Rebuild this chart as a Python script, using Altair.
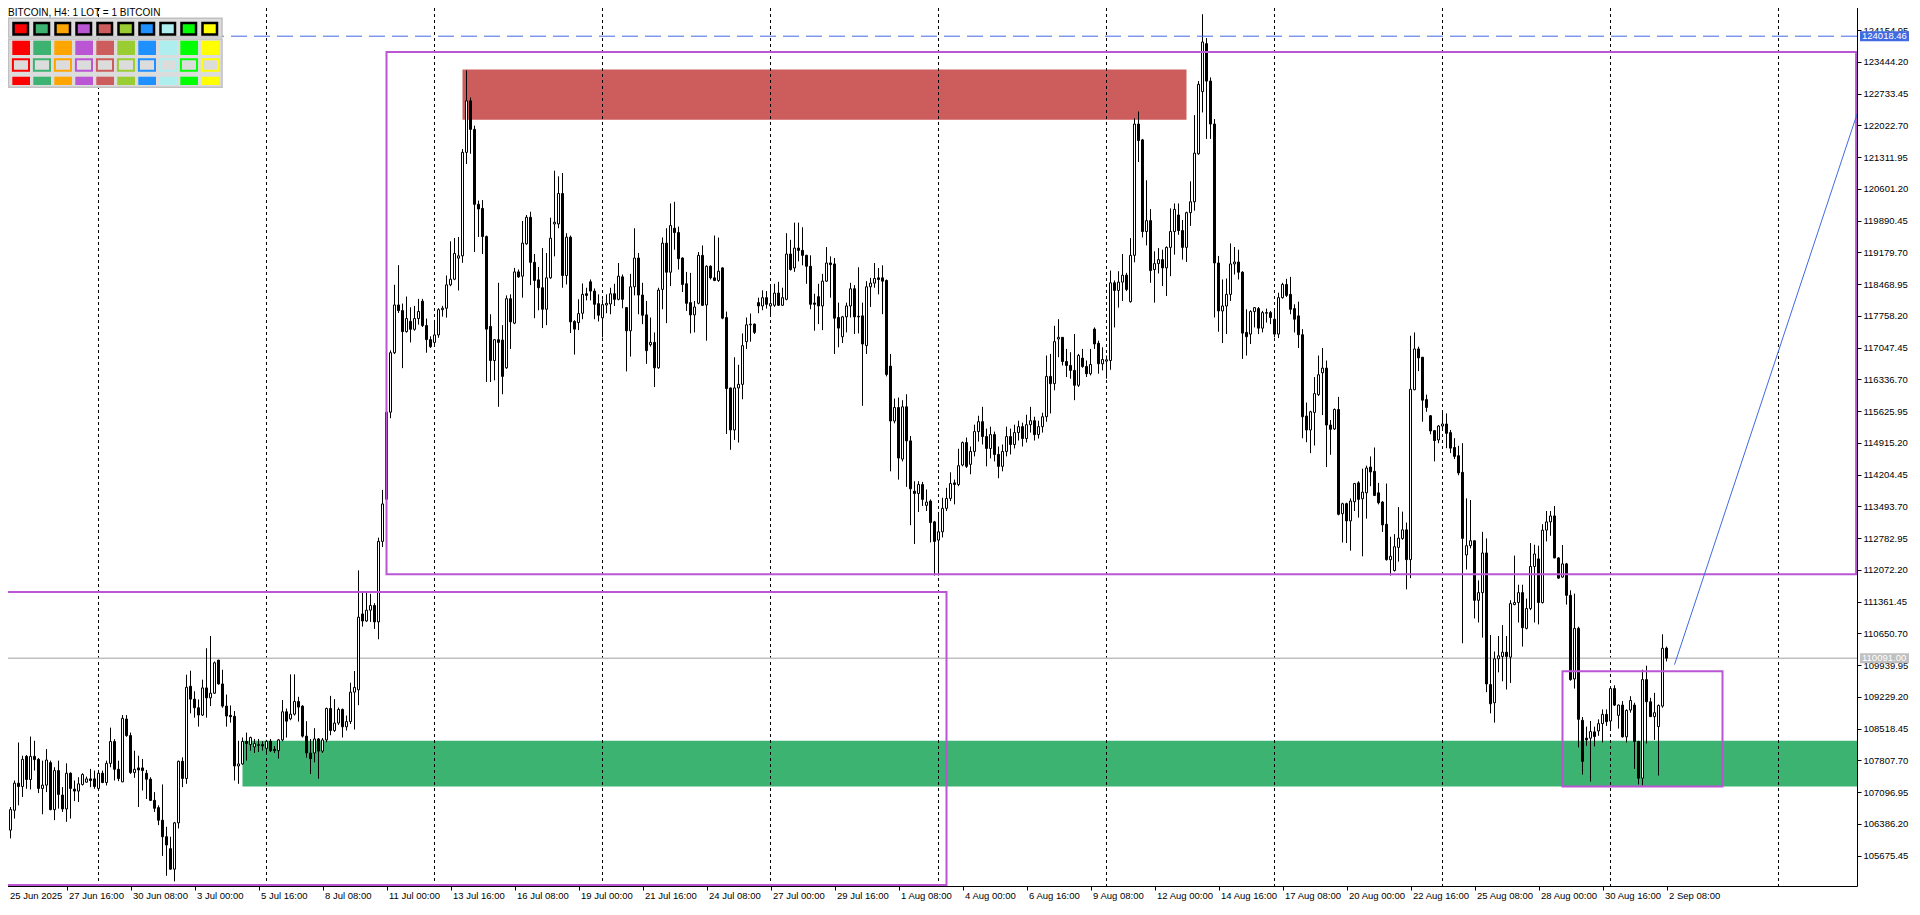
import altair as alt
import pandas as pd

TITLE = "BITCOIN, H4:  1 LOT = 1 BITCOIN"

OPEN = [
106431,106453,106246,106690,107297,107223,107897,107379,107897,107830,
107179,107253,107756,106705,107579,107031,106720,107519,107164,107120,
107268,107319,107393,107393,107179,107519,107312,107741,108230,107608,
107327,108733,108363,107534,107638,107638,107519,107386,106912,106749,
106468,106098,105831,105372,106409,107786,107401,109466,109178,108985,
108822,109429,109207,109311,110051,109518,109022,108815,108793,107682,
107727,108230,108161,108109,108140,108161,108077,108235,108056,108025,
108266,108895,108738,108842,109125,109021,108350,107973,107973,108287,
108015,108266,108968,108476,108643,108947,108559,108675,109335,109387,
111085,110928,111169,111274,110907,112710,113653,115602,116933,118002,
117876,117405,117635,117457,117698,118086,117541,117226,117164,117331,
117897,117929,118453,118578,119050,119102,121418,122571,121932,120255,
120163,119534,117521,116758,117224,117217,116595,118142,117595,118742,
118646,119371,119964,118957,118564,118387,117906,118609,119816,119816,
120497,118661,119519,117632,117609,117817,118253,118520,118313,118031,
117713,118002,118024,118253,118128,118631,117943,117424,118409,119053,
118224,117780,117113,117165,116595,118350,119386,118735,119719,119623,
119053,118476,118054,117780,118039,119112,118002,118868,118609,118550,
118831,117720,116144,115204,116144,116225,117180,117558,117573,118054,
117980,118165,117980,117995,118269,117995,118128,119142,118831,119275,
119224,119113,118868,118046,118187,117980,118535,118942,118920,117721,
117291,117736,117980,118365,117750,117758,117092,118409,118491,118609,
118609,118550,116632,115404,115707,114552,115722,114959,113834,113782,
113982,113516,113612,113146,112739,112924,113449,113671,114019,113982,
114419,114922,114434,114723,115167,115389,115056,114789,115100,114656,
114389,114723,115056,114878,115145,115278,115012,115322,115411,115100,
115278,115500,116403,116241,117240,117277,116737,116648,116537,116204,
116811,116625,116463,117462,117144,116685,116744,116759,118498,118328,
118513,118669,118076,119113,122052,121697,119646,119890,118795,118928,
119017,118832,119291,119646,120016,119668,119291,120068,120312,121386,
122777,123851,123014,122052,118942,117868,117979,118239,118920,118964,
118735,117387,117350,117854,117920,117483,117817,117831,117683,117350,
118165,118461,118239,117920,117757,117335,115514,115203,115596,115995,
116484,116588,115314,115226,115662,113330,113553,113168,113597,114019,
113664,113797,114374,114278,113797,113590,113093,112301,112057,112575,
112775,112968,112301,116106,117017,116832,115884,115522,115189,114981,
115292,115337,115145,114812,114627,114256,112406,112613,112724,111391,
111562,112450,109504,109097,110081,110133,110229,110118,111295,111340,
111562,110762,111206,112147,112317,111340,112961,113146,113279,112339,
111910,112206,111502,109630,110762,108704,108304,108304,108445,108467,
108630,108837,108689,109415,108815,109045,108334,108934,109045,108230,
107409,109615,109119,108786,108563,109022,110318]

HIGH = [
106468,106653,106764,107356,108208,107912,107926,108341,108245,107860,
107801,108060,107801,107653,107801,107208,107741,107541,107356,107430,
107519,107445,107616,107579,107593,107579,107801,108541,108282,107801,
108822,108822,108430,108023,107912,107838,107593,107430,107097,106801,
107268,106320,106098,106431,107801,107875,109725,109814,109355,109170,
109614,110318,110592,110021,110058,109836,109281,109037,108911,108245,
108319,108430,108339,108287,108287,108235,108266,108287,108130,108287,
109157,108968,109733,109733,109230,109042,108685,108287,108528,108308,
108308,108989,109251,109178,108989,108968,108811,109545,109807,112060,
111557,111588,111536,111326,112793,113862,115623,116985,118453,118893,
118033,118191,117950,117981,118138,118138,117698,117300,117667,117929,
117981,118662,119427,119501,119522,121492,123252,122645,122016,120339,
120349,119556,117794,117239,118498,117550,118216,118239,118831,118794,
119882,120015,120089,119142,118853,119275,119164,119956,121007,120882,
120956,119608,119556,117661,118128,118483,118387,118572,118372,118239,
118128,118239,118387,118476,118942,118683,117957,118698,119719,119164,
118498,118091,117720,117387,118387,119512,119719,120275,120312,119756,
119068,118742,118720,118091,119186,119334,118890,118890,119556,119512,
118846,117854,116151,116832,116662,117365,117721,117810,117587,118165,
118328,118313,118424,118476,118520,118387,119609,119460,119845,119845,
119742,119127,119113,118254,118476,118698,119298,119090,119053,118054,
117758,118054,118498,118446,118846,118054,118535,118609,118942,118831,
118890,118572,116906,115907,115929,115870,116003,115070,114056,114056,
114041,113871,113649,113168,113368,113686,113908,114256,114093,114782,
114945,115033,114834,115322,115522,115722,115234,115278,115167,114834,
114878,115278,115234,115322,115411,115367,115544,115722,115500,115411,
115589,116870,116907,117536,117684,117277,117018,116944,117351,116907,
117018,116759,117018,117499,117203,117055,116870,118772,118550,118758,
119142,118721,119498,122178,122333,121719,120793,120149,119202,119276,
119239,119313,120164,120275,120275,119905,120090,120771,122252,123014,
124510,123977,123096,122163,119100,118572,118594,119380,119300,119238,
118757,117905,117883,117957,117957,117868,117920,117868,117868,118276,
118498,118587,118631,118016,118076,117461,115818,115633,116388,116869,
117039,116758,115425,115685,115944,113575,113575,113671,114019,114056,
114337,114404,114611,114811,114019,113612,114004,112812,112871,113478,
113375,113131,117313,117387,117069,116832,115995,115537,115203,115314,
115648,115573,115204,115019,114849,114908,113672,113635,112724,111836,
112924,112776,110614,110244,110592,110836,110592,111391,112391,111739,
111739,111428,112672,112635,112613,113094,113390,113390,113501,112354,
112628,112228,111614,111539,110799,108778,108563,108689,108563,108726,
108948,108948,109467,109489,109059,109134,108948,109245,109097,108245,
109837,109926,109208,109319,109059,110629,110355]

LOW = [
105876,106135,106061,106505,106801,106986,107171,107157,107579,107075,
106601,107097,106690,106468,106727,106653,106431,106505,106897,106875,
107245,107312,107208,107171,107134,107297,107245,107653,107356,107342,
107319,108334,107504,107416,106764,107134,106942,106897,106653,106357,
105669,105224,105358,105099,106283,107208,107282,108859,108763,108563,
108800,108763,109022,109296,109503,108985,108563,108652,107356,107282,
107712,107801,108025,107973,107994,108025,107994,107994,107973,107847,
108235,108318,108706,108811,108675,108318,107868,107501,107763,107396,
107973,108214,108371,108444,108601,108318,108476,108622,108497,109042,
110802,110907,110907,110750,110519,112584,113632,115466,116902,117824,
116587,117384,117164,117426,117562,117509,116933,117038,117090,117268,
117740,117719,118421,118557,118327,118945,121156,121387,119186,119522,
119142,116277,116277,116314,115722,116003,116573,117017,117572,118609,
118165,119349,118446,117706,117883,117484,117550,118587,119090,119719,
118387,118461,117373,116891,117439,117683,118105,118105,117683,117632,
117276,117817,117794,117980,118105,117928,116514,116847,118216,117794,
117572,116684,117069,116166,116573,117906,117595,118424,119238,118794,
118291,117869,117365,117387,118017,117980,117202,118572,118535,118520,
117683,115115,114760,114982,114922,115892,117017,117180,117351,117817,
117884,117921,117795,117958,117980,117980,118106,118772,118742,118979,
118890,118476,117906,117425,117573,117439,118520,118165,116906,117054,
117151,117388,117721,117351,117365,115744,116906,117958,118387,118239,
117795,116403,114278,115352,114093,114500,113930,113072,112650,113368,
113501,113390,112687,111946,111946,112798,113390,113612,113538,113945,
114389,114352,114212,114612,114945,114878,114389,114567,114500,114123,
114278,114612,114656,114789,114967,114834,114923,115145,114967,115012,
115145,115389,115574,116092,116833,116648,116389,116352,115870,116166,
116596,116389,116426,117018,116463,116537,116352,116551,117499,117943,
118091,118313,118054,118957,121201,119513,119335,118498,118054,118706,
118424,118202,118646,119128,119572,119017,118965,119772,120112,121363,
122311,121719,121719,117721,117402,117150,117350,118091,118683,118572,
116795,116869,117128,117498,117350,117387,117609,117572,117276,117261,
118142,118179,117794,117387,117039,115018,114929,114685,114855,115966,
115537,114374,114648,115203,113293,112686,112672,112501,113390,113242,
112375,113219,113945,113723,113538,112923,112279,111946,112035,112257,
112746,111635,111887,116092,116521,115388,115611,115107,114500,114907,
115240,114796,114686,114553,114190,110429,112080,112554,110984,110895,
110555,109333,108860,108652,109778,109578,109393,109541,111280,110895,
110355,110740,111169,110895,110851,111317,112709,112835,112332,111873,
111895,111295,109592,109415,108097,107490,108134,107334,108119,108356,
108208,108578,108467,109022,108519,108319,108208,108875,107616,107268,
107246,108186,108778,108267,107468,108986,110022]

CLOSE = [
105950,106261,106705,107297,107223,107830,107379,107897,107823,107179,
107253,107815,106705,107579,107045,106720,107519,107179,107120,107282,
107490,107393,107356,107223,107519,107312,107741,108230,107608,107401,
108748,108363,107534,107608,107593,107579,107386,106912,106735,106468,
106098,105913,105372,106409,107786,107401,109444,109178,108985,108822,
109429,109207,109311,109992,109518,109022,108800,108785,107682,107727,
108230,108186,108318,108182,108161,108130,108235,108025,108025,108266,
108895,108685,108842,109125,109000,108350,107973,107847,108287,108015,
108266,108968,108476,108643,108947,108559,108675,109335,109440,111012,
110928,111169,111274,110907,112710,113548,115602,116933,118002,117876,
117405,117698,117457,117698,117855,117541,117226,117069,117331,117897,
117929,118453,118578,119155,119102,121418,122571,121932,120255,120150,
119534,117461,116758,117224,117165,116403,118142,117624,118742,118631,
119386,119964,118957,118550,118387,117906,118609,119497,119853,120497,
118661,119519,117624,117461,117809,118239,118216,118313,118017,117772,
118009,118039,118253,118128,118646,118128,117424,118409,119053,118224,
117772,116980,117165,116595,118335,119386,118735,119779,119623,119038,
118461,118039,117780,117957,119112,117994,118868,118609,118550,118757,
117706,116129,115204,116144,116225,117092,117558,117573,117388,117980,
118165,118017,118032,118269,117995,118165,119142,118794,119275,119224,
119113,118868,118017,118017,117980,118535,118942,118905,117706,117484,
117736,117980,118365,117736,117736,117128,118409,118491,118594,118572,
118535,116447,115404,115707,114575,115722,114959,113886,113782,113982,
113649,113590,113131,112709,112924,113449,113671,114004,113982,114404,
114922,114389,114723,115167,115389,115056,114789,115100,114656,114389,
114723,115056,114878,115145,115278,115012,115322,115411,115100,115278,
115500,116403,116241,117181,117277,116737,116648,116537,116204,116870,
116625,116463,116670,117129,116685,116781,116774,118498,118328,118513,
118669,118350,119113,122052,121682,119646,119890,118772,118928,119017,
118832,119291,119646,120142,119668,119291,120068,120312,121400,122940,
123888,123014,122052,118942,117868,117979,118239,118920,118964,118735,
117372,117291,117854,117942,117483,117831,117831,117720,117350,118165,
118461,118216,117905,117683,117335,115499,115203,115611,116018,116440,
116588,115314,115218,115662,113316,113553,113168,113612,114004,113649,
113812,114352,114263,113738,113575,113079,112301,112375,112590,112783,
112968,112301,116114,117017,116817,115870,115707,115181,114966,115292,
115337,115129,114797,114612,114242,112776,112613,112724,111391,111562,
112450,109518,109074,110081,110148,110229,110133,111317,111340,111562,
110777,111206,112147,112428,111340,112961,113146,113279,112339,111887,
112206,111502,109615,110762,108726,107786,108267,108452,108341,108630,
108837,108674,109415,109045,109045,108334,108926,109148,108230,107409,
109615,109119,108786,108875,109037,110318,110096]

# time axis: one label every 16 four-hour bars
X_TICKS = list(range(0, 417, 16))
X_LABELS = ['25 Jun 2025', '27 Jun 16:00', '30 Jun 08:00', '3 Jul 00:00', '5 Jul 16:00',
            '8 Jul 08:00', '11 Jul 00:00', '13 Jul 16:00', '16 Jul 08:00', '19 Jul 00:00',
            '21 Jul 16:00', '24 Jul 08:00', '27 Jul 00:00', '29 Jul 16:00', '1 Aug 08:00',
            '4 Aug 00:00', '6 Aug 16:00', '9 Aug 08:00', '12 Aug 00:00', '14 Aug 16:00',
            '17 Aug 08:00', '20 Aug 00:00', '22 Aug 16:00', '25 Aug 08:00', '28 Aug 00:00',
            '30 Aug 16:00', '2 Sep 08:00']
Y_TICKS = [105675.45, 106386.20, 107096.95, 107807.70, 108518.45, 109229.20, 109939.95,
           110650.70, 111361.45, 112072.20, 112782.95, 113493.70, 114204.45, 114915.20,
           115625.95, 116336.70, 117047.45, 117758.20, 118468.95, 119179.70, 119890.45,
           120601.20, 121311.95, 122022.70, 122733.45, 123444.20, 124154.95]

# weekly period separators (bar index)
SEPARATORS = [24, 66, 108, 150, 192, 234, 276, 318, 360, 402, 444]

# filled zones: bar from, bar to, price low, price high
FILL_X1 = [60, 115]
FILL_X2 = [464, 296]
FILL_P1 = [107224, 122148]
FILL_P2 = [108245, 123273]
FILL_COLORS = ['#3CB371', '#CD5C5C']

# outlined boxes
BOX_X1 = [96, -5, 390]
BOX_X2 = [463.4, 236, 430]
BOX_P1 = [111975, 105018, 107224]
BOX_P2 = [123666, 111575, 109800]

# trend line anchors
TREND_X = [418, 463.625]
TREND_P = [109950, 122274]

# horizontal price lines
LEVEL_PRICE = [124018.46, 110091.00]
LEVEL_TEXT = ['124018.46', '110091.00']
LEVEL_COLORS = ['#4169E1', '#C0C0C0']

PALETTE = ['#FF0000', '#3CB371', '#FFA500', '#BA55D3', '#CD5C5C',
           '#9ACD32', '#1E90FF', '#AFEEEE', '#00FF00', '#FFFF00']

W, H = 1855, 884
X0, X1 = -0.125, 463.625
PXB = W / (X1 - X0)          # pixels per bar
FONT = 'Liberation Sans'

XS = alt.Scale(domain=[X0, X1], nice=False, zero=False, padding=0)
YS = alt.Scale(domain=[104995, 124784], nice=False, zero=False, padding=0)

label_expr = "[" + ",".join("'%s'" % s for s in X_LABELS) + "][round(datum.value / 16)]"

XAXIS = alt.Axis(values=X_TICKS, labelExpr=label_expr, orient='bottom', tickSize=4,
                 tickColor='black', labelAlign='left', labelBaseline='top', labelPadding=0,
                 labelOffset={'condition': {'test': 'datum.value == 0', 'value': 7}, 'value': 2},
                 grid=False, domain=False, title=None, labelOverlap=False,
                 labelFont=FONT, labelFontSize=9.5, labelColor='black')
YAXIS = alt.Axis(values=Y_TICKS, format='.2f', orient='right', tickSize=4, tickColor='black',
                 labelPadding=2, labelAlign='left', labelBaseline='middle', grid=False,
                 domain=False, title=None, labelOverlap=False,
                 labelFont=FONT, labelFontSize=9.5, labelColor='black')


def X(field):
    return alt.X(field, scale=XS, axis=XAXIS)


def Y(field):
    return alt.Y(field, scale=YS, axis=YAXIS)


candles = pd.DataFrame({'i': list(range(len(OPEN))), 'o': OPEN, 'h': HIGH, 'l': LOW, 'c': CLOSE})
fills = pd.DataFrame({'x1': FILL_X1, 'x2': FILL_X2, 'p1': FILL_P1, 'p2': FILL_P2, 'color': FILL_COLORS})
boxes = pd.DataFrame({'x1': BOX_X1, 'x2': BOX_X2, 'p1': BOX_P1, 'p2': BOX_P2})
seps = pd.DataFrame({'i': SEPARATORS})
trend = pd.DataFrame({'i': TREND_X, 'p': TREND_P})
levels = pd.DataFrame({'p': LEVEL_PRICE, 't': LEVEL_TEXT, 'color': LEVEL_COLORS})
pal = pd.DataFrame({'col': list(range(len(PALETTE))), 'color': PALETTE})

fill_layer = alt.Chart(fills).mark_rect(clip=True).encode(
    x=X('x1:Q'), x2='x2:Q', y=Y('p1:Q'), y2='p2:Q',
    fill=alt.Fill('color:N', scale=None))

sep_layer = alt.Chart(seps).mark_rule(color='black', strokeWidth=1, strokeDash=[3, 3]).encode(
    x=X('i:Q'))

grey_line = alt.Chart(levels.iloc[[1]]).mark_rule(color='#C0C0C0', strokeWidth=1.5).encode(
    y=Y('p:Q'))

wicks = alt.Chart(candles).mark_rule(color='black', strokeWidth=1).encode(
    x=X('i:Q'), y=Y('l:Q'), y2='h:Q')

bodies = alt.Chart(candles).mark_bar(size=2, stroke='black', strokeWidth=1).encode(
    x=X('i:Q'), y=Y('o:Q'), y2='c:Q',
    fill=alt.condition('datum.c >= datum.o', alt.value('white'), alt.value('black')))

box_layer = alt.Chart(boxes).mark_rect(clip=True, fillOpacity=0, stroke='#BA55D3', strokeWidth=2).encode(
    x=X('x1:Q'), x2='x2:Q', y=Y('p1:Q'), y2='p2:Q')

blue_line = alt.Chart(levels.iloc[[0]]).mark_rule(color='#4169E1', strokeWidth=1, strokeDash=[16, 7]).encode(
    y=Y('p:Q'))

trend_layer = alt.Chart(trend).mark_line(color='#4169E1', strokeWidth=1, clip=True).encode(
    x=X('i:Q'), y=Y('p:Q'))

tag_boxes = alt.Chart(levels).mark_rule(strokeWidth=10, strokeCap='butt').encode(
    x=alt.value(W + 3), x2=alt.value(W + 52), y=Y('p:Q'),
    color=alt.Color('color:N', scale=None))

tag_text = alt.Chart(levels).mark_text(align='left', baseline='middle', color='white',
                                       font=FONT, fontSize=9.5).encode(
    x=alt.value(W + 5), y=Y('p:Q'), text='t:N')

one = pd.DataFrame({'a': [0]})
panel_top = alt.Chart(one).mark_rect(fill='#DCDCDC', stroke='#C0C0C0', strokeWidth=1.5).encode(
    x=alt.value(6.5), x2=alt.value(220), y=alt.value(16.3), y2=alt.value(35))
panel_bot = alt.Chart(one).mark_rect(fill='#DCDCDC', stroke='#C0C0C0', strokeWidth=1.5).encode(
    x=alt.value(6.5), x2=alt.value(220), y=alt.value(37), y2=alt.value(85.3))


def pal_row(left, right, y0, y1, **mark):
    # squares laid out every 21 px, converted to bar units of the shared x scale
    return alt.Chart(pal).transform_calculate(
        bx0='(%f + 21 * datum.col) / %f + %f' % (left, PXB, X0),
        bx1='(%f + 21 * datum.col) / %f + %f' % (right, PXB, X0)
    ).mark_rect(**mark).encode(
        x=X('bx0:Q'), x2='bx1:Q',
        y=alt.value(y0), y2=alt.value(y1))


row1 = pal_row(11.5, 26, 21, 32.5, stroke='black', strokeWidth=2.5).encode(
    fill=alt.Fill('color:N', scale=None))
row2 = pal_row(10.3, 28, 38.7, 53).encode(fill=alt.Fill('color:N', scale=None))
row3 = pal_row(10.9, 27, 57.3, 68.7, fill='#DCDCDC', strokeWidth=2).encode(
    stroke=alt.Stroke('color:N', scale=None))
row4 = pal_row(10.3, 28, 74.7, 83).encode(fill=alt.Fill('color:N', scale=None))

title = alt.Chart(pd.DataFrame({'t': [TITLE]})).mark_text(
    align='left', baseline='middle', font=FONT, fontSize=10, color='black').encode(
    x=alt.value(6), y=alt.value(10.5), text='t:N')

chart = alt.layer(
    fill_layer, sep_layer, grey_line, wicks, bodies, box_layer, blue_line,
    trend_layer, tag_boxes, tag_text, panel_top, panel_bot, row1, row2, row3, row4, title
).properties(
    width=W, height=H,
    autosize=alt.AutoSizeParams(type='none'),
    padding={'left': -6, 'top': -6, 'right': 55, 'bottom': 16},
    background='white'
).configure_view(stroke='black', strokeWidth=1)

chart.save("out.html", embed_options={"renderer": "svg", "actions": False})
